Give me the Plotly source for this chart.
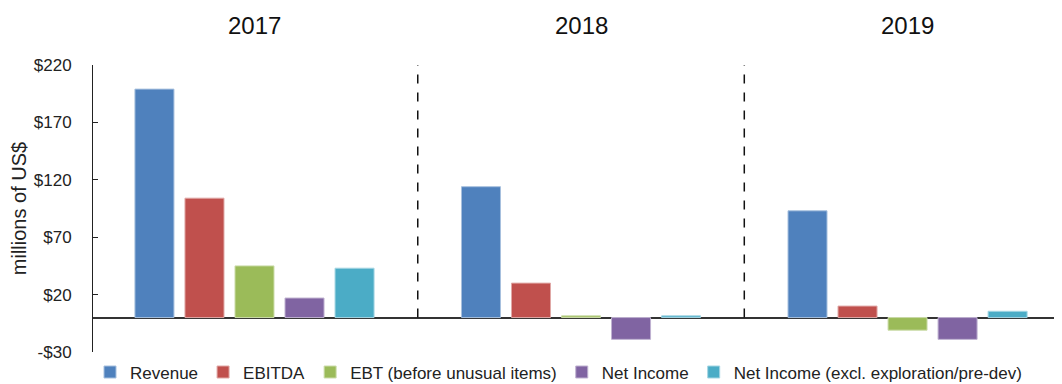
import plotly.graph_objects as go

years = ["2017", "2018", "2019"]
series_names = ["Revenue", "EBITDA", "EBT (before unusual items)", "Net Income",
                "Net Income (excl. exploration/pre-dev)"]
revenue = [199, 114, 93]
ebitda = [104, 30, 10]
ebt = [45, 1.5, -11]
net_income = [17, -19, -19]
net_income_excl = [43, 1.5, 5.5]
colors = ["#4F81BD", "#C0504D", "#9BBB59", "#8064A2", "#4BACC6"]
edge_colors = ["#A7C0DE", "#E0A8A6", "#CDDDAC", "#BFB2D1", "#A5D6E3"]
tick_vals = [-30, 20, 70, 120, 170, 220]
tick_text = ["-$30", "$20", "$70", "$120", "$170", "$220"]

values = [revenue, ebitda, ebt, net_income, net_income_excl]
xpos = list(range(len(years)))

fig = go.Figure()
for name, vals, c, ec in zip(series_names, values, colors, edge_colors):
    fig.add_trace(go.Bar(x=xpos, y=vals, name=name,
                         marker=dict(color=c, line=dict(color=ec, width=1))))

# page body has an 8px margin, so the figure is drawn 8px in from the corner
OFF = 8
W, H = 1062 - OFF, 384 - OFF
ML, MR, MT = 93 - OFF, 0, 65 - OFF
MB = H - (352.5 - OFF)
ph = H - MT - MB
pw = W - ML - MR

font_family = "Liberation Sans, Arial, sans-serif"
fig.update_layout(
    width=W, height=H,
    margin=dict(l=ML, r=MR, t=MT, b=MB, autoexpand=False),
    plot_bgcolor="white", paper_bgcolor="white",
    barmode="group", bargap=0.234, bargroupgap=0.22,
    font=dict(family=font_family, size=17, color="#222"),
    showlegend=True,
    legend=dict(orientation="h", x=-3 / pw, xanchor="left",
                y=-((373 - OFF) - (H - MB)) / ph, yanchor="middle",
                font=dict(size=17, color="#222"), itemwidth=30,
                bgcolor="rgba(0,0,0,0)"),
    xaxis=dict(range=[-0.4946, 2.473], showticklabels=False, showgrid=False,
               zeroline=False, showline=False, ticks="", automargin=False),
    yaxis=dict(range=[-30, 220], tickvals=tick_vals, ticktext=tick_text,
               showgrid=False, showline=True, linecolor="#222", linewidth=1,
               ticks="inside", ticklen=5, tickcolor="#222",
               ticklabelstandoff=17, automargin=False,
               tickfont=dict(size=17, color="#222"),
               zeroline=True, zerolinecolor="#333", zerolinewidth=1.5,
               title=dict(text="millions of US$", font=dict(size=20, color="#222"),
                          standoff=3)),
)

for i in range(len(years) - 1):
    fig.add_shape(type="line", xref="x", yref="y", x0=i + 0.5, x1=i + 0.5,
                  y0=0, y1=222.5, line=dict(color="#111", width=1.5, dash="dash"))

for i, yr in enumerate(years):
    fig.add_annotation(x=i, xref="x", y=1 + (MT - (25 - OFF)) / ph, yref="paper",
                       yanchor="middle", text=yr, showarrow=False,
                       font=dict(size=24, color="#111"))

fig.write_html("out.html")
